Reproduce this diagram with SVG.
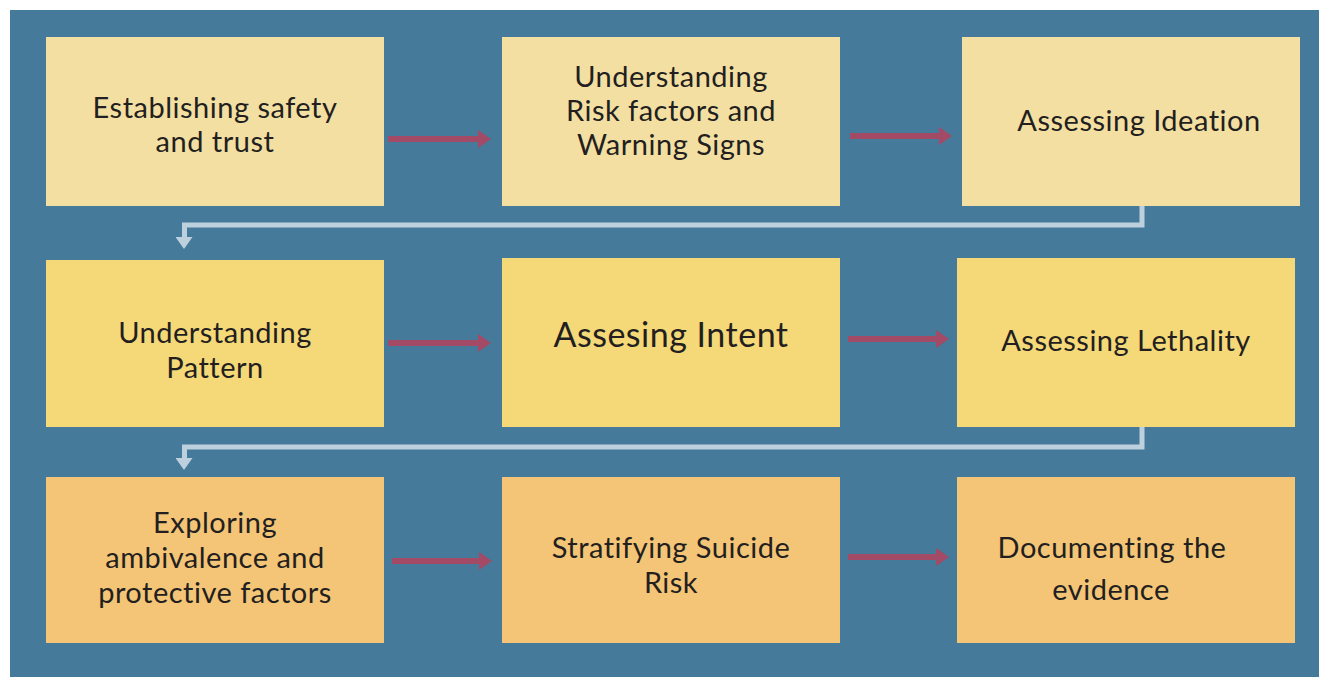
<svg xmlns="http://www.w3.org/2000/svg" width="1319" height="677" viewBox="0 0 1319 677">
<style>
.bg{fill:#467A9A}
.r1{fill:#F3DFA2}
.r2{fill:#F5D878}
.r3{fill:#F4C576}
text{font-family:Lato,"Open Sans","Liberation Sans",sans-serif;font-size:29px;letter-spacing:0.5px;fill:#231F20;text-anchor:middle}
.big{font-size:34px}
.red{stroke:#A24A66;stroke-width:6;fill:none}
.conn{stroke:#BDD0DD;stroke-width:5;fill:none}
</style>
<defs>
<marker id="ah" markerUnits="userSpaceOnUse" markerWidth="14" markerHeight="18" refX="2" refY="9" orient="auto">
<path d="M0,0 L13,9 L0,18 Z" fill="#A24A66"/>
</marker>
<marker id="lh" markerUnits="userSpaceOnUse" markerWidth="18" markerHeight="14" refX="9" refY="2" orient="0">
<path d="M0,0 L17,0 L8.5,12 Z" fill="#BDD0DD"/>
</marker>
</defs>
<rect class="bg" x="10" y="10" width="1309" height="667"/>
<g id="connectors">
<line class="red" x1="388" y1="139" x2="480" y2="139" marker-end="url(#ah)"/>
<line class="red" x1="850" y1="136" x2="941" y2="136" marker-end="url(#ah)"/>
<line class="red" x1="388" y1="343" x2="480" y2="343" marker-end="url(#ah)"/>
<line class="red" x1="848" y1="339" x2="938" y2="339" marker-end="url(#ah)"/>
<line class="red" x1="392" y1="561" x2="481" y2="561" marker-end="url(#ah)"/>
<line class="red" x1="848" y1="557" x2="938" y2="557" marker-end="url(#ah)"/>
<path class="conn" d="M1142,206 V225 H184.5 V239" marker-end="url(#lh)"/>
<path class="conn" d="M1142,427 V447 H184.5 V460" marker-end="url(#lh)"/>
</g>
<g id="n1"><rect class="r1" x="46" y="37" width="338" height="169"/><text x="215" y="118">Establishing safety</text><text x="215" y="152">and trust</text></g>
<g id="n2"><rect class="r1" x="502" y="37" width="338" height="169"/><text x="671" y="87">Understanding</text><text x="671" y="121">Risk factors and</text><text x="671" y="155">Warning Signs</text></g>
<g id="n3"><rect class="r1" x="962" y="37" width="338" height="169"/><text x="1139" y="131">Assessing Ideation</text></g>
<g id="n4"><rect class="r2" x="46" y="260" width="338" height="167"/><text x="215" y="343">Understanding</text><text x="215" y="378">Pattern</text></g>
<g id="n5"><rect class="r2" x="502" y="258" width="338" height="169"/><text class="big" x="671" y="347">Assesing Intent</text></g>
<g id="n6"><rect class="r2" x="957" y="258" width="338" height="169"/><text x="1126" y="351">Assessing Lethality</text></g>
<g id="n7"><rect class="r3" x="46" y="477" width="338" height="166"/><text x="215" y="533">Exploring</text><text x="215" y="568">ambivalence and</text><text x="215" y="603">protective factors</text></g>
<g id="n8"><rect class="r3" x="502" y="477" width="338" height="166"/><text x="671" y="558">Stratifying Suicide</text><text x="671" y="593">Risk</text></g>
<g id="n9"><rect class="r3" x="957" y="477" width="338" height="166"/><text x="1112" y="558">Documenting the</text><text x="1111" y="600">evidence</text></g>
</svg>
